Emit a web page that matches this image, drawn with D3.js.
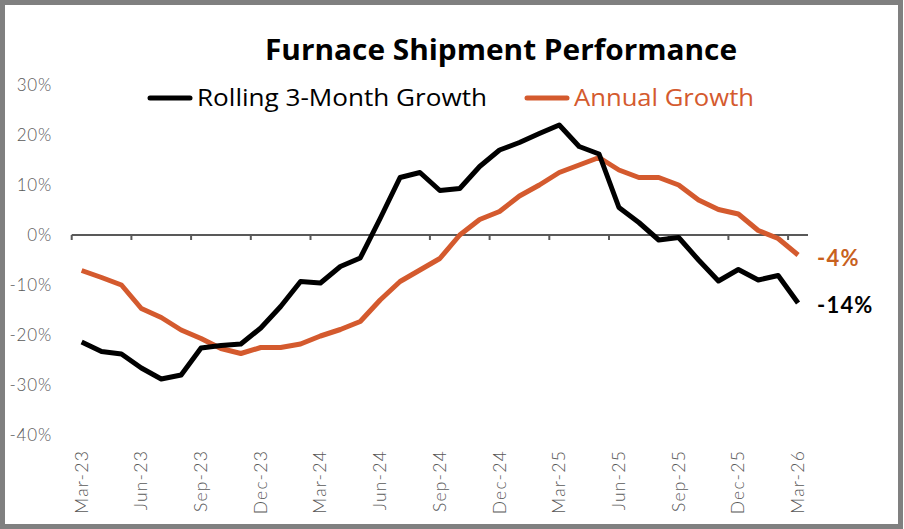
<!DOCTYPE html>
<html>
<head>
<meta charset="utf-8">
<script src="https://cdn.jsdelivr.net/npm/d3@7"></script>
<style>
  body { margin: 0; background: #fff; }
  svg { display: block; }
</style>
</head>
<body>
<script>
// monthly categories Mar-23 .. Mar-26
const months = ["Mar-23","Apr-23","May-23","Jun-23","Jul-23","Aug-23","Sep-23","Oct-23","Nov-23","Dec-23","Jan-24","Feb-24",
  "Mar-24","Apr-24","May-24","Jun-24","Jul-24","Aug-24","Sep-24","Oct-24","Nov-24","Dec-24","Jan-25","Feb-25",
  "Mar-25","Apr-25","May-25","Jun-25","Jul-25","Aug-25","Sep-25","Oct-25","Nov-25","Dec-25","Jan-26","Feb-26","Mar-26"];

const rolling3 = [-21.4,-23.3,-23.8,-26.6,-28.8,-28.0,-22.6,-22.1,-21.8,-18.6,-14.3,-9.3,
  -9.6,-6.3,-4.6,3.3,11.5,12.5,8.9,9.3,13.7,17.0,18.5,20.3,
  22.0,17.7,16.2,5.5,2.5,-1.0,-0.5,-5.0,-9.2,-6.9,-9.0,-8.1,-13.6];

const annual = [-7.1,-8.5,-10.0,-14.7,-16.5,-19.0,-20.7,-22.7,-23.7,-22.5,-22.5,-21.8,
  -20.2,-18.9,-17.3,-13.0,-9.3,-7.0,-4.7,0.0,3.1,4.7,7.8,10.0,
  12.5,14.0,15.5,13.0,11.5,11.5,10.0,7.0,5.1,4.2,0.9,-0.7,-4.0];

const yTicks = [30, 20, 10, 0, -10, -20, -30, -40];
const seriesNames = ["Rolling 3-Month Growth", "Annual Growth"];
const endLabels = ["-14%", "-4%"];

const W = 904, H = 529;
const black = "#000000", orange = "#D45A2E", orangeText = "#C8611E", gray = "#595959";

const svg = d3.select("body").append("svg")
  .attr("width", W).attr("height", H);

// frame
svg.append("rect").attr("x", 2.5).attr("y", 2.5)
  .attr("width", W - 6).attr("height", H - 5)
  .attr("fill", "#fff").attr("stroke", "#808080").attr("stroke-width", 5);

const x = d3.scaleBand().domain(months).range([71.7, 808]);
const y = d3.scaleLinear().domain([-40, 30]).range([435, 85]);

// y tick labels (no axis line)
svg.append("g").selectAll("text").data(yTicks).enter().append("text")
  .attr("x", 52).attr("y", d => y(d))
  .attr("dy", "0.35em")
  .attr("text-anchor", "end")
  .attr("font-family", "Lato, sans-serif").attr("font-weight", 300)
  .attr("font-size", "17px").attr("letter-spacing", "0.8px").attr("fill", gray)
  .text(d => d + "%");

// x axis at 0%
const tickIdx = d3.range(0, months.length, 3);
svg.append("line")
  .attr("x1", x.range()[0]).attr("x2", x.range()[1])
  .attr("y1", y(0)).attr("y2", y(0))
  .attr("stroke", gray).attr("stroke-width", 2);
svg.append("g").selectAll("line").data(tickIdx).enter().append("line")
  .attr("x1", i => x(months[i])).attr("x2", i => x(months[i]))
  .attr("y1", y(0)).attr("y2", y(0) + 5)
  .attr("stroke", gray).attr("stroke-width", 2);

// x labels, rotated
svg.append("g").selectAll("text").data(tickIdx).enter().append("text")
  .attr("transform", i => `translate(${x(months[i]) + x.bandwidth() / 2 + 6},450) rotate(-90)`)
  .attr("text-anchor", "end")
  .attr("font-family", "Lato, sans-serif").attr("font-weight", 300)
  .attr("font-size", "17.5px").attr("letter-spacing", "1.2px").attr("fill", gray)
  .text(i => months[i]);

// lines
const line = d3.line()
  .x((d, i) => x(months[i]) + x.bandwidth() / 2)
  .y(d => y(d));

svg.append("path").datum(annual)
  .attr("d", line).attr("fill", "none")
  .attr("stroke", orange).attr("stroke-width", 5)
  .attr("stroke-linejoin", "round");

svg.append("path").datum(rolling3)
  .attr("d", line).attr("fill", "none")
  .attr("stroke", black).attr("stroke-width", 5)
  .attr("stroke-linejoin", "round");

// end labels
const last = months.length - 1;
const lx = x(months[last]) + x.bandwidth() / 2 + 19;
svg.append("text").attr("x", lx).attr("y", y(annual[last]) + 11)
  .attr("font-family", "Lato, sans-serif").attr("font-weight", 700)
  .attr("font-size", "22px").attr("letter-spacing", "1.2px").attr("fill", orangeText)
  .text(endLabels[1]);
svg.append("text").attr("x", lx).attr("y", y(rolling3[last]) + 10)
  .attr("font-family", "Lato, sans-serif").attr("font-weight", 700)
  .attr("font-size", "22px").attr("letter-spacing", "1.2px").attr("fill", black)
  .text(endLabels[0]);

// title
svg.append("text").attr("x", 501).attr("y", 60)
  .attr("text-anchor", "middle")
  .attr("font-family", "'Open Sans', sans-serif").attr("font-weight", 700)
  .attr("font-size", "28px").attr("fill", "#000")
  .attr("textLength", 472).attr("lengthAdjust", "spacingAndGlyphs")
  .text("Furnace Shipment Performance");

// legend
const legend = [
  {name: seriesNames[0], color: black, textColor: "#000", x: 150, w: 290},
  {name: seriesNames[1], color: orange, textColor: orange, x: 527, w: 180}
];
const lg = svg.append("g").selectAll("g").data(legend).enter().append("g")
  .attr("transform", d => `translate(${d.x},98)`);
lg.append("line").attr("x1", 0).attr("x2", 40)
  .attr("stroke", d => d.color).attr("stroke-width", 5).attr("stroke-linecap", "round");
lg.append("text").attr("x", 47).attr("dy", "0.35em")
  .attr("font-family", "'Open Sans', sans-serif")
  .attr("font-size", "23px").attr("fill", d => d.textColor)
  .attr("textLength", d => d.w).attr("lengthAdjust", "spacingAndGlyphs")
  .text(d => d.name);
</script>
</body>
</html>
